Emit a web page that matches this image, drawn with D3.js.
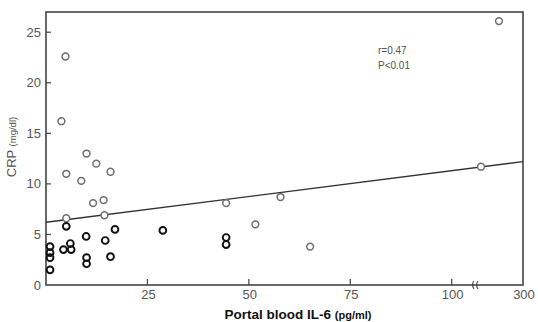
<!DOCTYPE html>
<html>
<head>
<meta charset="utf-8">
<script src="https://cdn.jsdelivr.net/npm/d3@7"></script>
<style>
  body { margin: 0; background: #fff; }
  text { font-family: "Liberation Sans", Arial, sans-serif; }
</style>
</head>
<body>
<div id="container"></div>
<script>
// IL-6 (pg/ml) vs CRP (mg/dl)
const grayIL6 = [4.8, 3.8, 10.0, 12.4, 5.0, 15.9, 8.7, 11.6, 14.2, 14.4, 5.0, 44.4, 57.8, 51.6, 65.1, 132, 204];
const grayCRP = [22.6, 16.2, 13.0, 12.0, 11.0, 11.2, 10.3, 8.1, 8.4, 6.9, 6.6, 8.1, 8.7, 6.0, 3.8, 11.7, 26.1];
const blackIL6 = [5.0, 1.0, 1.0, 1.0, 1.0, 4.3, 6.0, 6.2, 9.9, 10.0, 10.0, 14.6, 15.9, 17.0, 28.8, 44.4, 44.4];
const blackCRP = [5.8, 3.8, 3.2, 2.7, 1.5, 3.5, 4.1, 3.5, 4.8, 2.7, 2.1, 4.4, 2.8, 5.5, 5.4, 4.7, 4.0];
const xTicks = [25, 50, 75, 100, 300];
const yTicks = [0, 5, 10, 15, 20, 25];
const fitX = [0, 300];
const fitY = [6.2, 12.2];

const width = 538, height = 322;
const svg = d3.select('#container').append('svg')
  .attr('width', width).attr('height', height);

// broken x axis: 0-105 linear, then a squeezed piece up to 300
const x = d3.scaleLinear().domain([0, 105, 120, 300]).range([46, 472, 478, 523]);
const y = d3.scaleLinear().domain([0, 27]).range([285, 12]);

const axisCol = '#444', labCol = '#555';

// frame
svg.append('rect')
  .attr('x', x(0)).attr('y', y(27))
  .attr('width', x(300) - x(0)).attr('height', y(0) - y(27))
  .attr('fill', 'none').attr('stroke', axisCol).attr('stroke-width', 1.6);

// y ticks (inward)
svg.selectAll('.ytick').data(yTicks.filter(d => d > 0)).enter().append('line')
  .attr('x1', x(0)).attr('x2', x(0) + 5)
  .attr('y1', d => y(d)).attr('y2', d => y(d))
  .attr('stroke', axisCol).attr('stroke-width', 1.2);
svg.selectAll('.ylab').data(yTicks).enter().append('text')
  .attr('x', 41).attr('y', d => y(d) + 4.5)
  .attr('text-anchor', 'end').attr('font-size', 13).attr('fill', labCol)
  .text(d => d);

// x ticks (inward)
svg.selectAll('.xtick').data(xTicks.filter(d => d < 300)).enter().append('line')
  .attr('x1', d => x(d)).attr('x2', d => x(d))
  .attr('y1', y(0)).attr('y2', y(0) - 6)
  .attr('stroke', axisCol).attr('stroke-width', 1.2);
svg.selectAll('.xlab').data(xTicks).enter().append('text')
  .attr('x', d => x(d) + 1).attr('y', 299)
  .attr('text-anchor', 'middle').attr('font-size', 13).attr('fill', labCol)
  .text(d => d);

// axis break marks
[-2, 2].forEach(dx => {
  svg.append('path')
    .attr('d', `M${475 + dx + 1},${y(0) + 4} Q${475 + dx - 2},${y(0)} ${475 + dx + 1},${y(0) - 4}`)
    .attr('fill', 'none')
    .attr('stroke', axisCol).attr('stroke-width', 1.1);
});

// regression line
svg.append('line')
  .attr('x1', x(fitX[0])).attr('y1', y(fitY[0]))
  .attr('x2', x(fitX[1])).attr('y2', y(fitY[1]))
  .attr('stroke', '#333').attr('stroke-width', 1.4);

// points
svg.selectAll('.gdot').data(grayIL6).enter().append('circle')
  .attr('cx', d => x(d)).attr('cy', (d, i) => y(grayCRP[i]))
  .attr('r', 3.4).attr('fill', '#fff')
  .attr('stroke', '#6e6e6e').attr('stroke-width', 1.5);
svg.selectAll('.bdot').data(blackIL6).enter().append('circle')
  .attr('cx', d => x(d)).attr('cy', (d, i) => y(blackCRP[i]))
  .attr('r', 3.4).attr('fill', 'none')
  .attr('stroke', '#111').attr('stroke-width', 1.9);

// stats annotation
svg.append('text').attr('x', 378).attr('y', 54)
  .attr('font-size', 10).attr('fill', labCol).text('r=0.47');
svg.append('text').attr('x', 378).attr('y', 69)
  .attr('font-size', 10).attr('fill', labCol).text('P<0.01');

// axis titles
const yt = svg.append('text')
  .attr('transform', 'translate(16,147) rotate(-90)')
  .attr('text-anchor', 'middle').attr('fill', labCol);
yt.append('tspan').attr('font-size', 13).text('CRP ');
yt.append('tspan').attr('font-size', 9.5).text('(mg/dl)');

const xt = svg.append('text')
  .attr('x', 298).attr('y', 319)
  .attr('text-anchor', 'middle').attr('fill', '#111').attr('font-weight', 'bold');
xt.append('tspan').attr('font-size', 13.5).text('Portal blood IL-6 ');
xt.append('tspan').attr('font-size', 11).text('(pg/ml)');
</script>
</body>
</html>
